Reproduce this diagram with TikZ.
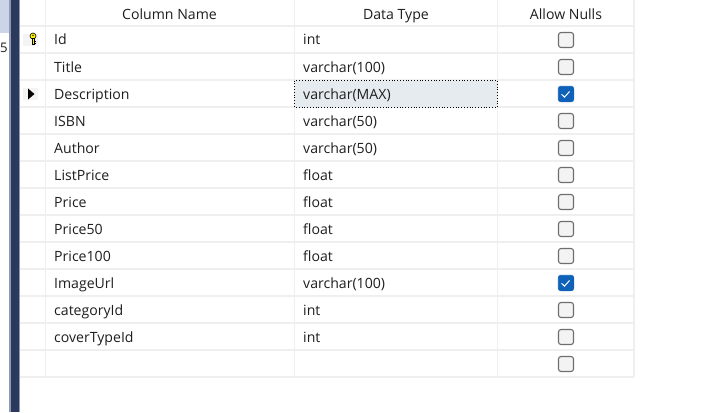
\documentclass[tikz,border=0pt]{standalone}
\usepackage{fontspec}
\setmainfont{Open Sans}
\definecolor{gridc}{HTML}{EFEFEF}
\definecolor{navy}{HTML}{2B3A5C}
\definecolor{barlight}{HTML}{CCD5E8}
\definecolor{edgec}{HTML}{8E99B5}
\definecolor{boxb}{HTML}{6E6E6E}
\definecolor{boxf}{HTML}{F3F3F3}
\definecolor{checkb}{HTML}{0F62B8}
\definecolor{selc}{HTML}{E6EBF0}
\definecolor{txt}{HTML}{1E1E1E}
\tikzset{
  x=1pt,y=-1pt,
  gridline/.style={draw=gridc,line width=1.2pt},
  celltext/.style={anchor=base west,inner sep=0pt,text=txt,font=\fontsize{14.1}{16}\selectfont},
  headtext/.style={anchor=base,inner sep=0pt,text=txt,font=\fontsize{14.1}{16}\selectfont},
  nullbox/.style={draw=boxb,fill=boxf,line width=1.1pt,rounded corners=2.5pt,minimum size=15pt,inner sep=0pt},
  nullcheck/.style={draw=checkb,fill=checkb,line width=.6pt,rounded corners=2.5pt,minimum size=15.5pt,inner sep=0pt},
  tick/.style={draw=white,line width=1pt},
}
\begin{document}
\begin{tikzpicture}
\useasboundingbox (0,0) rectangle (714,412);
\fill[white] (0,0) rectangle (714,412);
% left strip
\fill[barlight] (0,0) rectangle (10,33);
\node[celltext,font=\fontsize{13.2}{15}\selectfont] (pane) at (0,52.5) {5};
\fill[edgec] (9,0) rectangle (11,412);
\fill[navy] (11,0) rectangle (19,412);
\fill[edgec] (19,0) rectangle (20,412);
% grid
\foreach \yy in {26,53,...,377} \draw[gridline] (20,\yy) -- (634,\yy);
\draw[gridline] (45.5,0) -- (45.5,377);
\draw[gridline] (294.5,0) -- (294.5,377);
\draw[gridline] (497.5,0) -- (497.5,377);
\draw[gridline] (634,0) -- (634,377);
% selection
\draw[fill=selc,draw=black,line width=.8pt,dotted] (294.5,80.5) rectangle (497.5,107);
% headers
\node[headtext] (h1) at (169.5,19.8) {Column Name};
\node[headtext] (h2) at (396,19.8) {Data Type};
\node[headtext] (h3) at (566,19.8) {Allow Nulls};
% rows
\foreach \i/\nm/\ty/\ck in {
  0/Id/int/0,1/Title/varchar(100)/0,2/Description/varchar(MAX)/1,
  3/ISBN/varchar(50)/0,4/Author/varchar(50)/0,5/ListPrice/float/0,
  6/Price/float/0,7/Price50/float/0,8/Price100/float/0,
  9/ImageUrl/varchar(100)/1,10/categoryId/int/0,11/coverTypeId/int/0}{
  \pgfmathsetmacro{\by}{45+27*\i}
  \pgfmathsetmacro{\cy}{40+27*\i}
  \node[celltext] (n\i) at (54,\by) {\nm};
  \node[celltext] (t\i) at (303,\by) {\ty};
  \ifnum\ck=1
    \node[nullcheck] (c\i) at (566,\cy) {};
    \draw[tick] (561.5,\cy) ++(0,0.3) -- ++(3,2.8) -- ++(5,-5.6);
  \else
    \node[nullbox] (c\i) at (566,\cy) {};
  \fi
}
\node[nullbox] (c12) at (566,364) {};
% row markers
\fill[gridc!70!white] (23,34) rectangle (38,46);
\fill[gridc!70!white] (23,88) rectangle (38,100);
\fill[black] (28,88.5) -- (34.5,94) -- (28,99.5) -- cycle;
% key
\draw[black,fill=yellow,line width=.6pt] (33,36) circle (3);
\fill[black] (33,35.4) circle (.8);
\draw[black,fill=yellow,line width=.5pt] (32,38.6) rectangle (34,44.5);
\fill[black] (34,41) rectangle (35.5,42);
\fill[black] (34,43) rectangle (35.5,44.2);
\end{tikzpicture}
\end{document}
